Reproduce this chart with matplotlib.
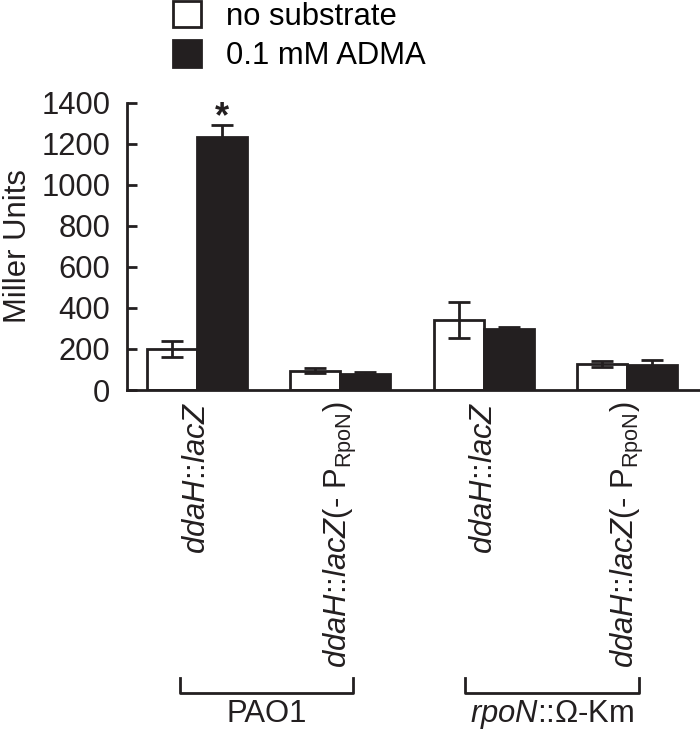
import matplotlib
matplotlib.use("Agg")
import matplotlib.pyplot as plt
import matplotlib.transforms as mtransforms
import numpy as np

plt.rcParams['font.family'] = ['Liberation Sans', 'DejaVu Sans']
plt.rcParams['mathtext.fontset'] = 'custom'
plt.rcParams['mathtext.rm'] = 'Liberation Sans'
plt.rcParams['mathtext.it'] = 'Liberation Sans:italic'

# data
strains = [r'$\it{ddaH}$::$\it{lacZ}$',
           r'$\it{ddaH}$::$\it{lacZ}$(- P$_{\rm RpoN}$)',
           r'$\it{ddaH}$::$\it{lacZ}$',
           r'$\it{ddaH}$::$\it{lacZ}$(- P$_{\rm RpoN}$)']
no_sub = [200, 95, 341, 127]
no_sub_err = [38, 11, 88, 14]
adma = [1231, 78, 297, 122]
adma_err = [62, 11, 12, 24]
backgrounds = ['PAO1', r'$\it{rpoN}$::Ω-Km']
series_names = ['no substrate', '0.1 mM ADMA']

dark = '#231f20'
fs = 22.3

fig = plt.figure(figsize=(7, 7.32), dpi=100)
ax = fig.add_axes([127/700, 1-390/732, 1-127/700, (390-102.7)/732])

x = np.arange(len(strains))
w = 0.349
b1 = ax.bar(x - w/2, no_sub, w, color='white', edgecolor=dark, linewidth=2, label=series_names[0], zorder=2)
b2 = ax.bar(x + w/2, adma, w, color=dark, edgecolor=dark, linewidth=2, label=series_names[1], zorder=2)
ax.errorbar(x - w/2, no_sub, yerr=no_sub_err, fmt='none', ecolor=dark, elinewidth=2, capsize=8, capthick=2, zorder=3)
ax.errorbar(x + w/2, adma, yerr=adma_err, fmt='none', ecolor=dark, elinewidth=2, capsize=8, capthick=2, zorder=3)

# significance mark
ax.text(x[0] + w/2, adma[0] + adma_err[0] + 35, '*', ha='center', va='center', fontsize=26, fontweight='bold', color=dark)

ax.set_ylim(0, 1400)
ax.set_xlim(-0.488, 3.51)
ax.set_yticks(range(0, 1401, 200))
ax.tick_params(axis='y', direction='in', length=7, width=2, color=dark, labelsize=fs, pad=12, labelcolor=dark)
ax.set_xticks(x)
ax.set_xticklabels(strains, rotation=90, fontsize=fs, color=dark, va='top', ha='center')
ax.tick_params(axis='x', length=0, pad=8)
ax.set_ylabel('Miller Units', fontsize=fs, color=dark, labelpad=6)
for s in ['top', 'right']:
    ax.spines[s].set_visible(False)
for s in ['left', 'bottom']:
    ax.spines[s].set_linewidth(2)
    ax.spines[s].set_color(dark)

# group brackets under the tick labels
trans = mtransforms.blended_transform_factory(ax.transData, ax.transAxes)
brackets = [(-0.119, 1.089), (1.870, 3.084)]
for (x0, x1), name in zip(brackets, backgrounds):
    ax.plot([x0, x0, x1, x1], [-1.002, -1.055, -1.055, -1.002], color=dark, lw=2,
            transform=trans, clip_on=False)
    ax.text((x0 + x1) / 2, -1.128, name, ha='center', va='center', fontsize=fs,
            color=dark, transform=trans)

fig.legend(handles=[b1, b2], loc='upper left', bbox_to_anchor=(173/700, 1 - 1/732),
           frameon=False, fontsize=fs, handlelength=0.92, handleheight=0.92,
           handletextpad=0.8, labelspacing=0.28, borderpad=0, borderaxespad=0)

fig.savefig('out.png', dpi=100)
